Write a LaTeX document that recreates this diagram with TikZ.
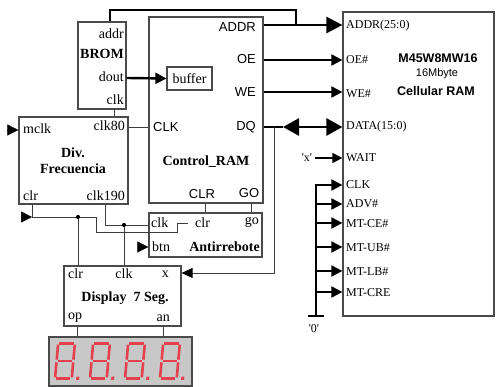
\documentclass[tikz,border=0pt]{standalone}
\usepackage{fontspec}
\setmainfont{Liberation Serif}
\newfontfamily\arialf{Liberation Sans}
\usetikzlibrary{arrows.meta}
\definecolor{boxline}{HTML}{4A4A4A}
\definecolor{wireline}{HTML}{3C3C3C}
\definecolor{segred}{HTML}{E5404E}
\definecolor{panelgray}{HTML}{C8C8C8}
\begin{document}
\begin{tikzpicture}[x=1pt,y=-1pt,
  block/.style={draw=boxline,line width=1.2pt,inner sep=0pt,fill=white},
  wire/.style={draw=wireline,line width=0.9pt},
  lbl/.style={inner sep=0pt,font=\fontsize{14}{16}\selectfont},
  slbl/.style={inner sep=0pt,font=\arialf\fontsize{13}{15}\selectfont},
  rlbl/.style={inner sep=0pt,anchor=west,font=\fontsize{12}{14}\selectfont},
  title/.style={inner sep=0pt,font=\bfseries\fontsize{14}{16}\selectfont},
  bigbus/.style={line width=2.6pt,-{Triangle[length=16pt,width=16pt]}},
  sig/.style={line width=2pt,-{Triangle[length=11pt,width=11pt]}},
  thinsig/.style={line width=1.4pt,-{Triangle[length=10pt,width=10pt]}},
  inmark/.style={line width=0.5pt,-{Triangle[length=11pt,width=11pt]}},
  junction/.style={circle,fill=black,inner sep=0pt,minimum size=4.2pt},
  seg/.style={draw=segred,line width=2.6pt},
  segdigit/.pic={
    \begin{scope}[xslant=0.09]
      \draw[seg] (2.6,1.3) -- (16.7,1.3);
      \draw[seg] (1.3,2.6) -- (1.3,17.7);
      \draw[seg] (18,2.6) -- (18,17.7);
      \draw[seg] (2.6,19) -- (16.7,19);
      \draw[seg] (1.3,20.3) -- (1.3,35.4);
      \draw[seg] (18,20.3) -- (18,35.4);
      \draw[seg] (2.6,36.7) -- (16.7,36.7);
      \fill[segred] (22.5,34.6) rectangle (25.5,37.8);
    \end{scope}}
]
\useasboundingbox (0,0) rectangle (499,387);

% ---- blocks ----
\node[block,minimum width=48pt,minimum height=87pt] (brom) at (102,65.5) {};
\node[block,minimum width=114pt,minimum height=186pt] (ctrl) at (206,110) {};
\node[block,lbl,minimum width=45pt,minimum height=23pt] (buf) at (189.5,78.5) {buffer};
\node[block,minimum width=151pt,minimum height=304pt] (ram) at (418.5,164) {};
\node[block,minimum width=109pt,minimum height=87pt] (div) at (73.5,160.5) {};
\node[block,minimum width=113pt,minimum height=44pt] (anti) at (205.5,235) {};
\node[block,minimum width=117pt,minimum height=60pt] (disp) at (122.5,296) {};
\node[draw=boxline,line width=1.4pt,fill=panelgray,inner sep=0pt,
      minimum width=143pt,minimum height=49pt] (panel) at (120.5,361.5) {};

% ---- BROM labels ----
\node[lbl,anchor=east] (bromaddr) at (124,34) {addr};
\node[title,anchor=east] (bromname) at (124,54) {BROM};
\node[lbl,anchor=east] (bromdout) at (124,77) {dout};
\node[lbl,anchor=east] (bromclk) at (124,100) {clk};

% ---- Control_RAM labels ----
\node[slbl,anchor=east] (caddr) at (256,27) {ADDR};
\node[slbl,anchor=east] (coe) at (256,59) {OE};
\node[slbl,anchor=east] (cwe) at (256,92) {WE};
\node[slbl,anchor=east] (cdq) at (256,127) {DQ};
\node[slbl,anchor=west] (cclk) at (153,127) {CLK};
\node[title] (cname) at (206,162) {Control\_RAM};
\node[slbl] (cclr) at (202,194) {CLR};
\node[slbl] (cgo) at (249,193) {GO};

% ---- Div. Frecuencia labels ----
\node[lbl,anchor=west] (dmclk) at (23,129) {mclk};
\node[lbl,anchor=east] (dclk80) at (125,126) {clk80};
\node[title,align=center] (dname) at (73,160.5) {Div.\\Frecuencia};
\node[lbl,anchor=west] (dclr) at (23,196) {clr};
\node[lbl,anchor=east] (dclk190) at (125,196) {clk190};

% ---- Antirrebote labels ----
\node[lbl,anchor=west] (aclk) at (151,223) {clk};
\node[lbl,anchor=west] (aclr) at (195,223) {clr};
\node[lbl,anchor=east] (ago) at (259,222) {go};
\node[lbl,anchor=west] (abtn) at (152,247) {btn};
\node[title,anchor=east] (aname) at (260,247) {Antirrebote};

% ---- Display labels ----
\node[lbl,anchor=west] (sclr) at (68,274) {clr};
\node[lbl] (sclk) at (124,274) {clk};
\node[lbl,anchor=east] (sx) at (169,274) {x};
\node[title] (sname) at (125,298) {Display\ \ 7 Seg.};
\node[lbl,anchor=west] (sop) at (68,318) {op};
\node[lbl,anchor=east] (san) at (170,318) {an};

% ---- memory chip labels ----
\node[rlbl] (raddr) at (346,26) {ADDR(25:0)};
\node[rlbl] (roe) at (346,60) {OE\#};
\node[rlbl] (rwe) at (346,94) {WE\#};
\node[rlbl] (rdata) at (346,127) {DATA(15:0)};
\node[rlbl] (rwait) at (346,158) {WAIT};
\node[rlbl] (rclk) at (346,185) {CLK};
\node[rlbl] (radv) at (346,204) {ADV\#};
\node[rlbl] (rce) at (346,224) {MT-CE\#};
\node[rlbl] (rub) at (346,248) {MT-UB\#};
\node[rlbl] (rlb) at (346,272) {MT-LB\#};
\node[rlbl] (rcre) at (346,293) {MT-CRE};
\node[inner sep=0pt,font=\arialf\bfseries\fontsize{12.5}{14}\selectfont] (rpart) at (438,58.5) {M45W8MW16};
\node[inner sep=0pt,font=\arialf\fontsize{11}{13}\selectfont] (rsize) at (437,74) {16Mbyte};
\node[inner sep=0pt,font=\arialf\bfseries\fontsize{12.5}{14}\selectfont] (rkind) at (436,91) {Cellular RAM};
\node[inner sep=0pt,font=\fontsize{12}{14}\selectfont] (xconst) at (307,158) {\textquotesingle x\textquotesingle};
\node[inner sep=0pt,font=\fontsize{12}{14}\selectfont] (zconst) at (314,329) {\textquotesingle 0\textquotesingle};

% ---- named points ----
\coordinate (addrtap) at (296,25);
\coordinate (dqtip) at (283,127);
\coordinate (dqtap) at (274,127);
\coordinate (xout) at (315,158);
\coordinate (gnd) at (316,316);
\coordinate (busTop) at (316,185);
\coordinate (clrj) at (78,217);
\coordinate (clkj) at (124,225);

% ---- address bus ----
\draw[line width=2.6pt] (brom.north -| 110,0) -- (110,10) -| (addrtap);
\draw[bigbus] (ctrl.east |- 0,25) -- (ram.west |- 0,25);

% ---- control signals to memory ----
\draw[line width=2.4pt,-{Triangle[length=11pt,width=11pt]}] (brom.east |- 0,78) -- (buf.west);
\draw[sig] (ctrl.east |- 0,60) -- (ram.west |- 0,60);
\draw[sig] (ctrl.east |- 0,92) -- (ram.west |- 0,92);
\draw[line width=2.8pt] (ctrl.east |- 0,127) -- (dqtip);
\draw[line width=2.8pt,{Triangle[length=16pt,width=17pt]}-{Triangle[length=16pt,width=17pt]}] (dqtip) -- (ram.west |- 0,127);
\draw[thinsig] (xout) -- (ram.west |- 0,158);

% ---- tied-low inputs ----
\draw[line width=2.2pt] (308,316) -- (324,316);
\draw[sig] (gnd) -- (busTop) -- (ram.west |- busTop);
\foreach \yy in {204,223,247,271,292}
  \draw[sig] (316,\yy) -- (ram.west |- 0,\yy);

% ---- display data path ----
\draw[wire,-{Triangle[length=11pt,width=10pt,color=black]}] (dqtap) |- (disp.east |- 0,273);

% ---- clock and reset wiring ----
\draw[wire] (brom.south -| 114,0) -- (div.north -| 114,0);
\draw[wire] (div.east |- 0,127) -- (ctrl.west |- 0,127);
\draw[inmark] (7,130) -- (div.west |- 0,130);
\draw[inmark] (21,217) -- (32,217);
\draw[wire] (div.south -| 32,0) -- (32,217) -- (96,217) -- (96,232) -- (177,232) -- (177,223) -- (188,223);
\draw[wire] (clrj) -- (disp.north -| clrj);
\node[junction] (clrdot) at (clrj) {};
\draw[wire] (div.south -| 105,0) |- (anti.west |- clkj);
\draw[wire] (clkj) -- (disp.north -| clkj);
\node[junction] (clkdot) at (clkj) {};
\draw[wire] (ctrl.south -| 205,0) -- (anti.north -| 205,0);
\draw[wire] (ctrl.south -| 251,0) -- (anti.north -| 251,0);
\draw[inmark] (138,247) -- (anti.west |- 0,247);
\draw[wire] (disp.south -| 77,0) -- (panel.north -| 77,0);
\draw[wire] (disp.south -| 163,0) -- (panel.north -| 163,0);

% ---- seven-segment digits ----
\foreach \dx in {57,92,127,162}
  \pic at (\dx,342) {segdigit};
\end{tikzpicture}
\end{document}
